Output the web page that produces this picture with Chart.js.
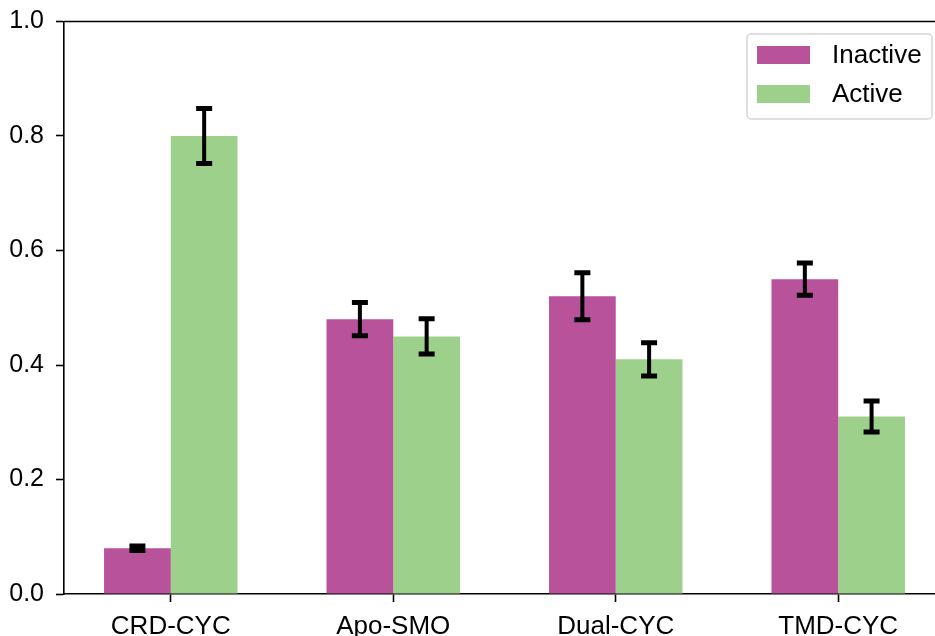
<!DOCTYPE html>
<html lang="en">
<head>
    <meta charset="UTF-8">
    <title>Inactive vs Active</title>
    <style>
        html, body {
            margin: 0;
            padding: 0;
            background: #fff;
            overflow: hidden;
        }
        .chart-box {
            position: relative;
            width: 950px;
            height: 636px;
        }
    </style>
    <script src="https://cdn.jsdelivr.net/npm/chart.js@4.4.1/dist/chart.umd.min.js"></script>
</head>
<body>
<div class="chart-box">
    <canvas id="barChart"></canvas>
</div>

<script>
    // data
    const categories = ['CRD-CYC', 'Apo-SMO', 'Dual-CYC', 'TMD-CYC'];
    const seriesNames = ['Inactive', 'Active'];
    const inactiveValues = [0.08, 0.48, 0.52, 0.55];
    const inactiveErrors = [0.004, 0.029, 0.041, 0.028];
    const activeValues = [0.80, 0.45, 0.41, 0.31];
    const activeErrors = [0.048, 0.031, 0.029, 0.027];
    const yTicks = [0.0, 0.2, 0.4, 0.6, 0.8, 1.0];

    const FONT = '"Liberation Sans", Arial, Helvetica, sans-serif';
    const colors = ['#b8529b', '#9dd08a'];

    // error bars, drawn from the bar elements and the y scale
    const errorBars = {
        id: 'errorBars',
        afterDatasetsDraw(chart) {
            const ctx = chart.ctx;
            const y = chart.scales.y;
            ctx.save();
            ctx.strokeStyle = '#000';
            chart.data.datasets.forEach((ds, di) => {
                const meta = chart.getDatasetMeta(di);
                meta.data.forEach((bar, i) => {
                    const v = ds.data[i].y, e = ds.errors[i];
                    const top = y.getPixelForValue(v + e);
                    const bot = y.getPixelForValue(v - e);
                    ctx.lineWidth = 4;
                    ctx.beginPath();
                    ctx.moveTo(bar.x, top);
                    ctx.lineTo(bar.x, bot);
                    ctx.stroke();
                    ctx.lineWidth = 5;
                    ctx.beginPath();
                    ctx.moveTo(bar.x - 8, top);
                    ctx.lineTo(bar.x + 8, top);
                    ctx.moveTo(bar.x - 8, bot);
                    ctx.lineTo(bar.x + 8, bot);
                    ctx.stroke();
                });
            });
            ctx.restore();
        }
    };

    // top spine + framed legend in the upper right
    const frame = {
        id: 'frame',
        afterDraw(chart) {
            const ctx = chart.ctx;
            const a = chart.chartArea;
            ctx.save();
            ctx.strokeStyle = '#000';
            ctx.lineWidth = 1.6;
            ctx.beginPath();
            ctx.moveTo(a.left, a.top);
            ctx.lineTo(a.right, a.top);
            ctx.stroke();

            const lx = 747, ly = 34, lw = 185, lh = 85;
            ctx.fillStyle = 'rgba(255,255,255,0.8)';
            ctx.strokeStyle = '#d6d6d6';
            ctx.lineWidth = 1.5;
            ctx.beginPath();
            ctx.roundRect(lx, ly, lw, lh, 4);
            ctx.fill();
            ctx.stroke();

            ctx.font = '26px ' + FONT;
            ctx.textBaseline = 'middle';
            chart.data.datasets.forEach((ds, i) => {
                const cy = 55 + i * 39;
                ctx.fillStyle = ds.backgroundColor;
                ctx.fillRect(757, cy - 9, 53, 18);
                ctx.fillStyle = '#000';
                ctx.fillText(ds.label, 832, cy + 1);
            });
            ctx.restore();
        }
    };

    document.addEventListener('DOMContentLoaded', function() {
        const ctx = document.getElementById('barChart').getContext('2d');
        new Chart(ctx, {
            type: 'bar',
            data: {
                datasets: [
                    {
                        label: seriesNames[0],
                        data: inactiveValues.map((v, i) => ({ x: i, y: v })),
                        errors: inactiveErrors,
                        backgroundColor: colors[0],
                        borderWidth: 0
                    },
                    {
                        label: seriesNames[1],
                        data: activeValues.map((v, i) => ({ x: i, y: v })),
                        errors: activeErrors,
                        backgroundColor: colors[1],
                        borderWidth: 0
                    }
                ]
            },
            options: {
                responsive: true,
                maintainAspectRatio: false,
                devicePixelRatio: 1,
                animation: false,
                categoryPercentage: 0.6,
                barPercentage: 1.0,
                layout: { padding: { top: 21.5, right: 5, left: 0, bottom: 0 } },
                scales: {
                    x: {
                        type: 'linear',
                        offset: false,
                        min: -0.48,
                        max: 3.48,
                        afterBuildTicks: s => { s.ticks = categories.map((c, i) => ({ value: i })); },
                        afterFit: s => { s.height = 42; s.paddingLeft = 0; s.paddingRight = 0; },
                        border: { display: true, color: '#000', width: 1.6 },
                        grid: { offset: false, drawOnChartArea: false, tickLength: 8, tickColor: '#000', tickWidth: 1.6 },
                        ticks: {
                            color: '#000',
                            padding: 9,
                            maxRotation: 0,
                            autoSkip: false,
                            font: { family: FONT, size: 26 },
                            callback: v => categories[v]
                        }
                    },
                    y: {
                        min: 0,
                        max: 1,
                        afterBuildTicks: s => { s.ticks = yTicks.map(v => ({ value: v })); },
                        afterFit: s => { s.width = 64; s.paddingTop = 0; s.paddingBottom = 0; },
                        border: { display: true, color: '#000', width: 1.6 },
                        grid: { drawOnChartArea: false, tickLength: 8, tickColor: '#000', tickWidth: 1.6 },
                        ticks: {
                            color: '#000',
                            padding: 12,
                            font: { family: FONT, size: 25 },
                            callback: v => Number(v).toFixed(1)
                        }
                    }
                },
                plugins: {
                    legend: { display: false },
                    tooltip: { enabled: false }
                }
            },
            plugins: [errorBars, frame]
        });
    });
</script>
</body>
</html>
